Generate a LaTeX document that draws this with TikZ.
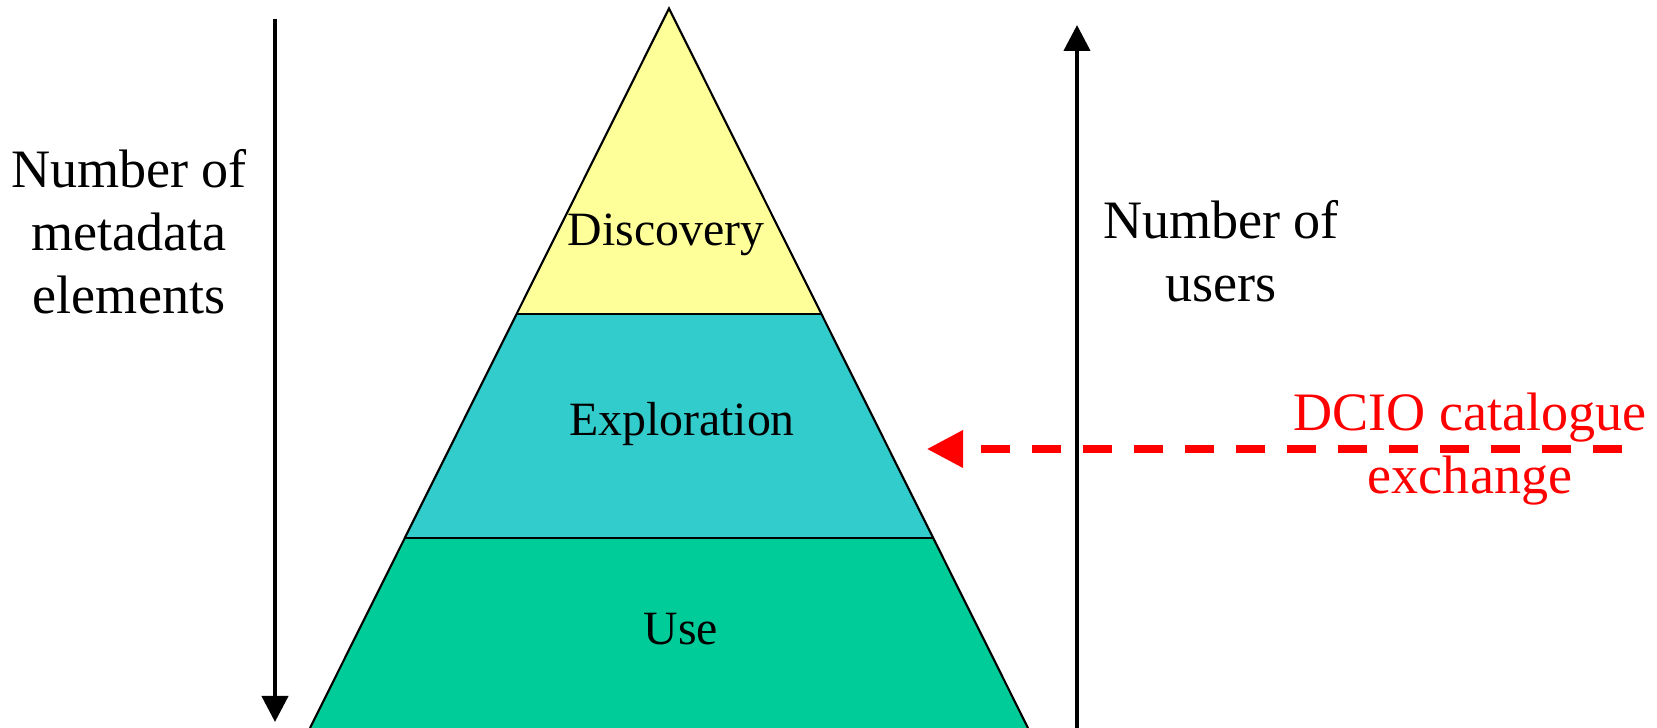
\documentclass[tikz,border=0pt]{standalone}
\usepackage{fontspec}
\setmainfont{Liberation Serif}
\usetikzlibrary{arrows.meta}
\definecolor{discov}{HTML}{FFFF99}
\definecolor{explor}{HTML}{33CCCC}
\definecolor{usecol}{HTML}{00CC99}
\newcommand{\lblfont}{\fontsize{15.4}{17.9}\selectfont}
\newcommand{\tierfont}{\fontsize{13.6}{16}\selectfont}
\begin{document}
\begin{tikzpicture}[lbl/.style={font=\lblfont,align=center,inner sep=0pt},
                    tier/.style={font=\tierfont,inner sep=0pt},
                    bigtip/.style={-{Triangle[length=0.26cm,width=0.26cm]},line width=1.2pt}]
                \useasboundingbox (0,0) rectangle (16.57,7.28);
                \coordinate (top) at (6.69,7.195);
                \coordinate (dl) at (5.17,4.14);  \coordinate (dr) at (8.21,4.14);
                \coordinate (el) at (4.05,1.90);  \coordinate (er) at (9.33,1.90);
                \coordinate (ul) at (3.10,0);     \coordinate (ur) at (10.28,0);
                \fill[discov] (top) -- (dl) -- (dr) -- cycle;
                \fill[explor] (dl) -- (el) -- (er) -- (dr) -- cycle;
                \fill[usecol] (el) -- (ul) -- (ur) -- (er) -- cycle;
                \draw[line width=0.6pt] (ul) -- (top) -- (ur);
                \draw[line width=0.6pt] (dl) -- (dr) (el) -- (er);
                \node[tier] (disc) at (6.66,4.93) {Discovery};
                \node[tier] (expl) at (6.82,3.04) {Exploration};
                \node[tier] (use) at (6.81,0.99) {Use};
                % side arrows
                \coordinate (mstart) at (2.75,7.09);
                \coordinate (mend) at (2.75,0.06);
                \draw[bigtip] (mstart) -- (mend);
                \node[lbl] (meta) at (1.29,4.96) {Number of\\metadata\\elements};
                \coordinate (ustart) at (10.77,0);
                \coordinate (uend) at (10.77,7.03);
                \draw[bigtip] (ustart) -- (uend);
                \node[lbl] (users) at (12.21,4.765) {Number of\\users};
                % catalogue exchange
                \coordinate (xstart) at (16.22,2.79);
                \coordinate (xend) at (9.27,2.79);
                \draw[red,line width=2pt,dash pattern=on 0.29cm off 0.22cm,
                      -{Triangle[length=0.36cm,width=0.36cm]}] (xstart) -- (xend);
                \node[lbl,text=red] (dcio) at (14.70,2.785) {DCIO catalogue\\exchange};
            \end{tikzpicture}
\end{document}
